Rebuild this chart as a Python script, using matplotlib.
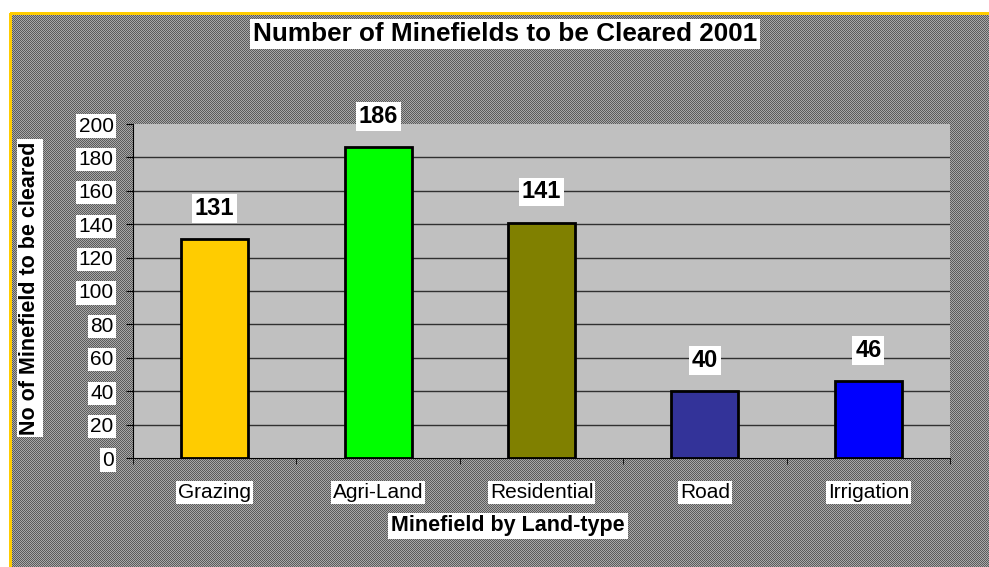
import numpy as np
import matplotlib
matplotlib.use("Agg")
import matplotlib.pyplot as plt

categories = ["Grazing", "Agri-Land", "Residential", "Road", "Irrigation"]
values = [131, 186, 141, 40, 46]
bar_colors = ["#FFCC00", "#00FF00", "#808000", "#333399", "#0000FF"]
yticks = [0, 20, 40, 60, 80, 100, 120, 140, 160, 180, 200]

W, H = 989, 567
fig = plt.figure(figsize=(W / 100, H / 100), dpi=100)
plt.rcParams['font.family'] = ['Liberation Sans', 'DejaVu Sans']

# background: fine checker pattern, white margin and yellow border
yy, xx = np.mgrid[0:H, 0:W]
chk = ((xx + yy) % 2).astype(float)
bg = np.empty((H, W, 3))
g = np.where(chk == 1, 0.66, 0.36)
bg[..., 0] = g
bg[..., 1] = g
bg[..., 2] = g
bg[:13, :, :] = 1.0
bg[:, :10, :] = 1.0
yel = np.array([1.0, 0.8, 0.0])
bg[12:15, 10:, :] = yel
bg[13:, 9:12, :] = yel
fig.figimage(bg, xo=0, yo=0, origin='upper', zorder=-5)

ax = fig.add_axes([133 / W, 1 - 458 / H, (950 - 133) / W, (458 - 124) / H])
ax.set_zorder(2)
ax.set_facecolor("#C0C0C0")
x = np.arange(len(categories))
bars = ax.bar(x, values, width=0.41, color=bar_colors, edgecolor="black",
              linewidth=2, zorder=3)
ax.set_xlim(-0.5, len(categories) - 0.5)
ax.set_ylim(0, 200)
ax.set_yticks(yticks)
ax.set_yticklabels([str(v) for v in yticks])
for v in yticks[1:-1]:
    ax.axhline(v, color="#303030", linewidth=1, zorder=1)

for s in ["top", "right"]:
    ax.spines[s].set_visible(False)
ax.spines["left"].set_color("black")
ax.spines["bottom"].set_color("black")

ax.set_xticks(x)
ax.set_xticklabels(categories)
ax.set_xticks(np.arange(-0.5, len(categories)), minor=True)
ax.tick_params(axis="x", which="major", length=0, pad=18, labelsize=15)
ax.tick_params(axis="x", which="minor", length=4, color="black")
ax.tick_params(axis="y", length=5, color="black", labelsize=15, pad=9)
for lab in ax.get_xticklabels() + ax.get_yticklabels():
    lab.set_bbox(dict(facecolor="white", edgecolor="none", pad=1.5))

for xi, v in zip(x, values):
    ax.annotate(str(v), (xi, v), xytext=(0, 22), textcoords="offset points",
                ha="center", va="center", fontsize=17, fontweight="bold",
                bbox=dict(facecolor="white", edgecolor="none", pad=2), zorder=5)

fig.text(505 / W, 1 - 34 / H, "Number of Minefields to be Cleared 2001",
         ha="center", va="center", fontsize=18.8, fontweight="bold",
         bbox=dict(facecolor="white", edgecolor="none", pad=2), zorder=3)
fig.text(508 / W, 1 - 526 / H, "Minefield by Land-type",
         ha="center", va="center", fontsize=15.5, fontweight="bold",
         bbox=dict(facecolor="white", edgecolor="none", pad=2), zorder=3)
fig.text(30 / W, 1 - 288 / H, "No of Minefield to be cleared",
         ha="center", va="center", rotation=90, fontsize=15.5, fontweight="bold",
         bbox=dict(facecolor="white", edgecolor="none", pad=2), zorder=3)

fig.savefig("out.png", dpi=100)
